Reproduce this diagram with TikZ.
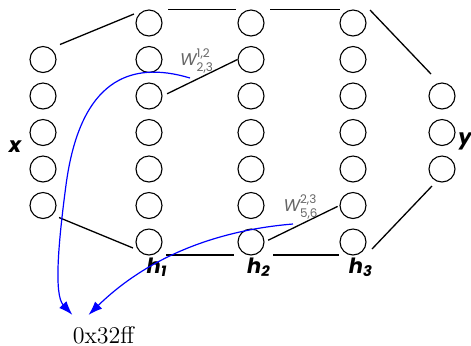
\documentclass[tikz,border=0pt]{standalone}
\usepackage{amsmath}
\usepackage{fontspec}
\setsansfont{Poppins}
\usetikzlibrary{positioning,calc,arrows.meta}
\tikzset{
  neuron/.style={draw,circle,minimum size=13pt,inner sep=0pt,line width=0.55pt},
  link/.style={line width=0.65pt},
  lab/.style={font=\sffamily\bfseries\itshape\fontsize{10.5}{12}\selectfont,inner sep=0pt},
  wlab/.style={font=\sffamily\itshape\fontsize{8.5}{10}\selectfont,text=black!60,inner sep=0pt},
  ptr/.style={blue,line width=0.6pt,-{Latex[length=7pt,width=5pt]}}
}
\begin{document}
\begin{tikzpicture}[x=0.5pt,y=-0.5pt]
\useasboundingbox (0,0) rectangle (471,345);
\foreach \r in {2,...,6} \node[neuron] (x-\r) at (43,{23+36.5*(\r-1)}) {};
\foreach \k/\kx in {1/149,2/251,3/353}
  \foreach \r in {1,...,7} \node[neuron] (h\k-\r) at (\kx,{23+36.5*(\r-1)}) {};
\foreach \r in {3,4,5} \node[neuron] (y-\r) at (442,{23+36.5*(\r-1)}) {};
\draw[link] ($(x-2)+(17,-15)$) -- ($(h1-1)+(-15,-9)$);
\draw[link] ($(h1-1)+(19,-13.5)$) -- ($(h2-1)+(-15,-13.5)$);
\draw[link] ($(h2-1)+(19,-13.5)$) -- ($(h3-1)+(-13,-13.5)$);
\draw[link] ($(h3-1)+(17,-13)$) -- ($(y-3)+(-11,-22)$);
\draw[link] ($(x-6)+(16,12)$) -- ($(h1-7)+(-16,6)$);
\draw[link] ($(h1-7)+(17,13)$) -- ($(h2-7)+(-17,13)$);
\draw[link] ($(h2-7)+(22,13)$) -- ($(h3-7)+(-14,13)$);
\draw[link] ($(h3-7)+(19,7)$) -- ($(y-5)+(-10,17)$);
\draw[link,shorten <=2.5pt] (h1-3.east) -- (h2-2.west);
\draw[link,shorten <=2pt,shorten >=1pt] (h2-7.east) -- (h3-6.west);
\node[wlab] (w12) at (197,61) {W$^{\text{\upshape 1,2}}_{\text{\upshape 2,3}}$};
\node[wlab] (w56) at (301,207) {W$^{\text{\upshape 2,3}}_{\text{\upshape 5,6}}$};
\node[lab] (xl) at (15,147) {x};
\node[lab] (yl) at (465,141) {y};
\foreach \k in {1,2,3} \node[lab,below=1pt of h\k-7,xshift=4pt] (hl\k) {h\textsubscript{\k}};
\node[font=\fontsize{12}{14}\selectfont,inner sep=0pt] (addr) at (103.5,335) {0x32ff};
\coordinate (p1) at (190,78);
\coordinate (p2) at (293,224);
\draw[ptr] (p1) .. controls (130,60) and (80,80) .. (66,185) .. controls (58,245) and (54,295) .. ([yshift=5.5pt]addr.north west);
\draw[ptr] (p2) .. controls (220,230) and (150,255) .. ([xshift=-7.5pt,yshift=5.5pt]addr.north);
\end{tikzpicture}
\end{document}
